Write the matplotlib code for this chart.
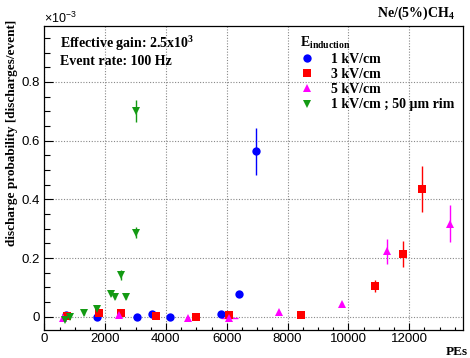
import matplotlib
matplotlib.use("Agg")
import matplotlib.pyplot as plt
from matplotlib.lines import Line2D

# valeurs en unites de 1e-3 discharges/event
pe_1kv = [714, 1723, 3039, 3553, 4140, 5813, 6415, 6975]
prob_1kv = [0.005, 0.0, 0.0, 0.008, -0.002, 0.008, 0.076, 0.563]
err_1kv = [0.004, 0.003, 0.003, 0.004, 0.003, 0.004, 0.010, 0.079]

pe_3kv = [757, 1799, 2513, 3660, 4990, 6086, 8434, 10878, 11810, 12424]
prob_3kv = [0.002, 0.014, 0.014, 0.002, 0.0, 0.006, 0.006, 0.105, 0.214, 0.436]
err_3kv = [0.003, 0.004, 0.004, 0.003, 0.003, 0.004, 0.004, 0.020, 0.045, 0.078]

pe_5kv = [600, 2467, 4737, 6086, 7730, 9783, 11263, 13345]
prob_5kv = [-0.004, 0.006, -0.003, -0.006, 0.017, 0.045, 0.223, 0.316]
err_5kv = [0.003, 0.003, 0.003, 0.004, 0.004, 0.006, 0.043, 0.063]
xerr_5kv = [0, 0, 0, 270, 0, 0, 0, 0]

pe_rim = [684, 845, 1306, 1723, 2184, 2326, 2513, 2688, 3016, 3016]
prob_rim = [-0.011, 0.0, 0.011, 0.025, 0.077, 0.068, 0.142, 0.066, 0.286, 0.702]
err_rim = [0.003, 0.003, 0.004, 0.005, 0.006, 0.006, 0.018, 0.006, 0.018, 0.038]

labels = ["1 kV/cm", "3 kV/cm", "5 kV/cm", "1 kV/cm ; 50 \u00b5m rim"]
x_ticks = [0, 2000, 4000, 6000, 8000, 10000, 12000]
y_ticks = [0, 0.2, 0.4, 0.6, 0.8]
y_tick_labels = ["0", "0.2", "0.4", "0.6", "0.8"]

plt.rcParams['font.family'] = ['Liberation Sans', 'DejaVu Sans']
plt.rcParams['mathtext.fontset'] = 'custom'
plt.rcParams['mathtext.rm'] = 'Liberation Serif'
plt.rcParams['mathtext.bf'] = 'Liberation Serif:bold'
plt.rcParams['mathtext.sf'] = 'Liberation Sans'

serif_b = dict(family='Liberation Serif', weight='bold')

fig = plt.figure(figsize=(4.7, 3.58), dpi=100)
ax = fig.add_axes([0.0943, 0.0782, 0.8907, 0.8488])

series = [
    (pe_1kv, prob_1kv, err_1kv, None, 'o', '#0000ff', 6),
    (pe_3kv, prob_3kv, err_3kv, None, 's', '#ff0000', 6),
    (pe_5kv, prob_5kv, err_5kv, xerr_5kv, '^', '#ff00ff', 6),
    (pe_rim, prob_rim, err_rim, None, 'v', '#139a13', 6),
]
handles = []
for x, y, ye, xe, m, c, ms in series:
    ax.errorbar(x, y, yerr=ye, xerr=xe, fmt=m, color=c, ms=ms, mew=0,
                elinewidth=1.0, capsize=1.5, capthick=1.0, zorder=3)
    handles.append(Line2D([], [], ls='none', marker=m, color=c, ms=ms, mew=0))

ax.set_xlim(0, 13770)
ax.set_ylim(-0.0453, 0.990)
ax.set_xticks(x_ticks, [str(v) for v in x_ticks])
ax.set_xticks(range(0, 14000, 500), minor=True)
ax.set_yticks(y_ticks, y_tick_labels)
ax.set_yticks([i * 0.05 for i in range(0, 20)], minor=True)
ax.tick_params(which='both', direction='in', top=False, right=False,
               labelsize=9.5, width=0.8)
ax.tick_params(axis='x', which='major', length=5, pad=2)
ax.tick_params(axis='x', which='minor', length=2.5)
ax.tick_params(axis='y', which='major', length=6.5, pad=3)
ax.tick_params(axis='y', which='minor', length=4)
ax.grid(True, which='major', color='#888888', ls=(0, (1, 1.5)), lw=0.8)
for s in ax.spines.values():
    s.set_linewidth(0.9)

fig.text(44 / 470, 1 - 18 / 358, r'$\mathsf{\times 10^{-3}}$', fontsize=9,
         ha='left', va='center')
fig.text(12 / 470, 1 - 20 / 358, 'discharge probability [discharges/event]',
         rotation=90, ha='center', va='top', fontsize=9.5, **serif_b)
fig.text(0.995, 1 - 352 / 358, 'PEs', ha='right', va='center', fontsize=9.5, **serif_b)
fig.text(455 / 470, 1 - 17 / 358, r'Ne/(5%)CH$_{\mathbf{4}}$', ha='right',
         va='baseline', fontsize=10, **serif_b)
fig.text(60 / 470, 1 - 48 / 358, r'Effective gain: 2.5x10$^{\mathbf{3}}$',
         ha='left', va='baseline', fontsize=10, **serif_b)
fig.text(60 / 470, 1 - 65 / 358, 'Event rate: 100 Hz',
         ha='left', va='baseline', fontsize=10, **serif_b)

leg = ax.legend(handles, labels, loc='upper left',
                bbox_to_anchor=((300 - 44.3) / 418.7, (330 - 34) / 304),
                frameon=False, prop=dict(size=10, **serif_b),
                title=r'$\mathbf{E}_{\mathbf{induction}}$',
                title_fontproperties=dict(size=10, **serif_b),
                alignment='left', handlelength=1.0, handletextpad=1.2,
                labelspacing=0.16, borderaxespad=0, borderpad=0)

fig.savefig('out.png', dpi=100)
